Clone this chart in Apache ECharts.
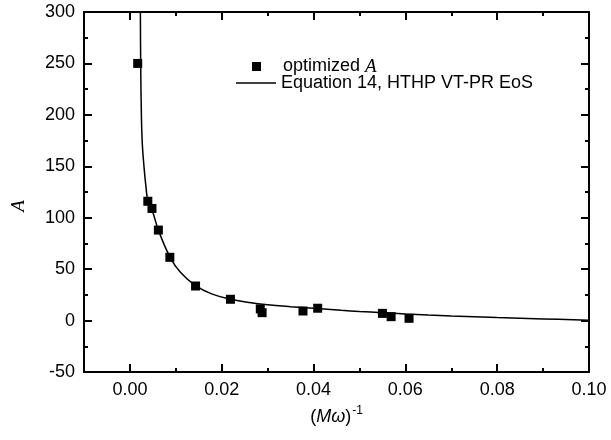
<!DOCTYPE html>
<html><head><meta charset="utf-8">
<script src="https://cdn.jsdelivr.net/npm/echarts@6/dist/echarts.min.js"></script>
<style>html,body{margin:0;padding:0;background:#fff}#c{width:611px;height:440px}</style>
</head><body><div id="c"></div>
<script>
// optimized A points: [ (M w)^-1 , A ]
const optX = [0.0017, 0.0039, 0.0048, 0.0062, 0.0087, 0.0143, 0.0219, 0.0284, 0.0288, 0.0377, 0.0409, 0.0550, 0.0569, 0.0608];
const optA = [250, 116, 109, 88, 61.5, 33.6, 20.7, 11.3, 7.7, 9.3, 12.0, 7.0, 3.8, 2.2];
// Equation 14 curve
const eqX = [0.00228, 0.00235, 0.0025, 0.0027, 0.0031, 0.0035, 0.0039, 0.0048, 0.0062, 0.0087, 0.011, 0.0143, 0.0178, 0.022, 0.026, 0.030, 0.035, 0.040, 0.046, 0.050, 0.055, 0.060, 0.065, 0.070, 0.080, 0.090, 0.100];
const eqA = [300, 250, 200, 172, 148, 130, 117, 108, 88, 62, 47, 34, 26, 20.8, 17.6, 15.4, 13.5, 11.9, 10.0, 8.9, 7.7, 6.5, 5.4, 4.5, 2.9, 1.6, 0.4];
const xMajor = [0.00, 0.02, 0.04, 0.06, 0.08, 0.10];
const xMinor = [-0.01, 0.01, 0.03, 0.05, 0.07, 0.09];

const chart = echarts.init(document.getElementById('c'));
const lineStyle = {color: '#000', width: 2};
const SANS = 'Liberation Sans, Arial';
function xa(pos, vals, len, labels, line) {
  return {
    type: 'value', position: pos, min: -0.01, max: 0.10, interval: 0.01,
    axisLine: {show: line, onZero: false, lineStyle: lineStyle},
    axisTick: {show: true, inside: true, length: len, customValues: vals, lineStyle: {color: '#000', width: 2}},
    axisLabel: labels ? {show: true, customValues: xMajor, formatter: v => v.toFixed(2), color: '#000', fontSize: 18, fontFamily: SANS, margin: 9} : {show: false},
    splitLine: {show: false}
  };
}
const xName = xa('bottom', xMajor, 8, true, true);
xName.name = '{p|(}{i|Mω}{p|)}{s|-1}';
xName.nameLocation = 'middle';
xName.nameGap = 33;
xName.nameMoveOverlap = false;
xName.nameTextStyle = {rich: {
  p: {fontSize: 18, fontFamily: SANS, color: '#000'},
  i: {fontSize: 18, fontFamily: SANS, fontStyle: 'italic', color: '#000'},
  s: {fontSize: 12, fontFamily: SANS, color: '#000', verticalAlign: 'top', padding: [0, 0, 12, 1]}
}};
function ya(pos, labels) {
  const o = {
    type: 'value', position: pos, min: -50, max: 300, interval: 50,
    axisLine: {show: true, onZero: false, lineStyle: lineStyle},
    axisTick: {show: true, inside: true, length: 8, lineStyle: {color: '#000', width: 2}},
    minorTick: {show: true, splitNumber: 2, length: 4, lineStyle: {color: '#000', width: 2}},
    axisLabel: labels ? {show: true, color: '#000', fontSize: 18, fontFamily: SANS, margin: 9} : {show: false},
    splitLine: {show: false}
  };
  if (labels) {
    o.name = 'A';
    o.nameLocation = 'middle';
    o.nameGap = 56;
    o.nameMoveOverlap = false;
    o.nameTextStyle = {fontFamily: 'Liberation Serif, Times New Roman', fontStyle: 'italic', fontSize: 19, color: '#000', padding: [0, 28, 0, 0]};
  }
  return o;
}
chart.setOption({
  animation: false,
  backgroundColor: '#fff',
  grid: {left: 84, right: 22, top: 12, bottom: 68, outerBoundsMode: 'none', containLabel: false},
  xAxis: [xName, xa('bottom', xMinor, 4, false, false), xa('top', xMajor, 8, false, true), xa('top', xMinor, 4, false, false)],
  yAxis: [ya('left', true), ya('right', false)],
  legend: [{
    orient: 'vertical', left: 252, top: 57, padding: 0, itemWidth: 9, itemHeight: 9, itemGap: 0,
    icon: 'rect',
    textStyle: {fontSize: 18, fontFamily: SANS, color: '#000',
      rich: {sp: {width: 17},
             n: {fontSize: 18, fontFamily: SANS, color: '#000'},
             i: {fontSize: 19, fontFamily: 'Liberation Serif, Times New Roman', fontStyle: 'italic', color: '#000'}}},
    formatter: () => '{sp|}{n|optimized }{i|A}',
    data: ['optimized A']
  }, {
    orient: 'vertical', left: 236, top: 74, padding: 0, itemWidth: 40, itemHeight: 1.5, itemGap: 0,
    icon: 'rect',
    textStyle: {fontSize: 18, fontFamily: SANS, color: '#000'},
    data: ['Equation 14, HTHP VT-PR EoS']
  }],
  series: [
    {name: 'optimized A', type: 'scatter', symbol: 'rect', symbolSize: 9,
     itemStyle: {color: '#000', opacity: 1}, data: optX.map((x, i) => [x, optA[i]]), z: 3},
    {name: 'Equation 14, HTHP VT-PR EoS', type: 'line', symbol: 'none', smooth: 0.4,
     lineStyle: {color: '#000', width: 1.5}, itemStyle: {color: '#000'}, clip: true,
     data: eqX.map((x, i) => [x, eqA[i]]), z: 2}
  ]
});
</script></body></html>
